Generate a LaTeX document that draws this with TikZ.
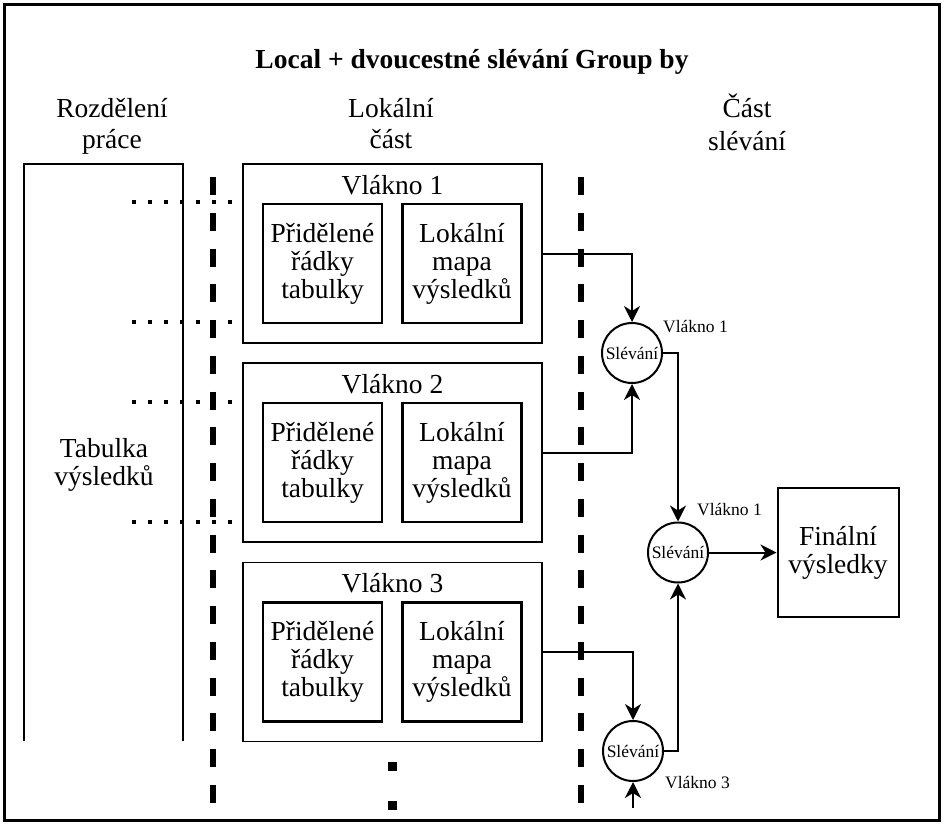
\documentclass[tikz,border=0pt]{standalone}
\usepackage{fontspec}
\setmainfont{Liberation Serif}
\usetikzlibrary{arrows.meta,positioning,calc}

\begin{document}
\begin{tikzpicture}[x=1pt, y=-1pt,
    font=\fontsize{27.5}{28}\selectfont,
    every node/.style={inner sep=0pt},
    header/.style={align=center, font=\fontsize{27.5}{30.5}\selectfont},
    threadbox/.style={draw, line width=1.8pt, minimum width=299pt, minimum height=179pt},
    partbox/.style={draw, line width=2.5pt, minimum width=119pt, minimum height=119pt, align=center},
    mergenode/.style={draw, circle, line width=2pt, minimum size=60pt, font=\fontsize{17.5}{18}\selectfont},
    threadlabel/.style={font=\fontsize{17.5}{18}\selectfont, anchor=base west},
    flow/.style={line width=2pt, -{Stealth[length=16pt, width=16pt, inset=5pt]}},
    sepline/.style={line width=6pt, dash pattern=on 18pt off 17.76pt},
    dotline/.style={line width=4pt, dash pattern=on 4pt off 12pt}]
    \useasboundingbox (0,0) rectangle (945,825);
    % Outer frame
    \draw[line width=2.5pt] (4.5,4.5) rectangle (939.5,820.5);
    % Title and column headers
    \node[font=\fontsize{27.5}{28}\selectfont\bfseries, anchor=base] (title) at (472,68) {Local + dvoucestné slévání Group by};
    \node[header] (splitHead) at (112,126.5) {Rozdělení\\práce};
    \node[header] (localHead) at (391,123.5) {Lokální\\část};
    \node[header, font=\fontsize{27.5}{33}\selectfont] (mergeHead) at (747,122) {Část\\slévání};

    % Result table (open box)
    \draw[line width=2pt] (24,741) -- (24,164) -- (183,164) -- (183,741);
    \node[align=center] (resTable) at (104,465) {Tabulka\\výsledků};

    % Dotted guides from the table to the threads
    \foreach \y in {202,322,402,522} {
      \draw[dotline] (132,\y) -- (232,\y);
    }

    % Thick dashed separators
    \draw[sepline] (212.5,177) -- (212.5,803);
    \draw[sepline] (580.5,177) -- (580.5,803);

    % Thread boxes with their two parts
    \foreach \i/\yc in {1/253.5, 2/452.5, 3/652} {
      \node[threadbox] (thread\i) at (392.5,\yc) {};
      \node[anchor=base] (threadName\i) at ($(thread\i.north)+(0,31)$) {Vlákno \i};
      \node[partbox] (rows\i) at ($(thread\i.center)+(-70,10)$) {Přidělené\\řádky\\tabulky};
      \node[partbox] (localMap\i) at ($(thread\i.center)+(69.5,10)$) {Lokální\\mapa\\výsledků};
    }
    % More threads
    \draw[line width=9pt, dash pattern=on 9pt off 30pt] (392,762) -- (392,810);

    % Merge nodes and final result
    \node[mergenode] (merge1) at (632,353) {Slévání};
    \node[mergenode] (merge2) at (678,552.5) {Slévání};
    \node[mergenode] (merge3) at (633,751) {Slévání};
    \node[draw, line width=2pt, minimum width=121pt, minimum height=129pt, align=center] (final) at (838,552.5) {Finální\\výsledky};

    \node[threadlabel] (mergeLabel1) at ($(merge1.center)+(31,-21)$) {Vlákno 1};
    \node[threadlabel] (mergeLabel2) at ($(merge2.center)+(19,-37.5)$) {Vlákno 1};
    \node[threadlabel] (mergeLabel3) at ($(merge3.center)+(32,37)$) {Vlákno 3};

    % Arrows into the merge tree
    \draw[flow] (thread1.east) -| (merge1);
    \draw[flow] (thread2.east) -| (merge1);
    \draw[flow] (merge1.east) -| (merge2);
    \draw[flow] (thread3.east) -| (merge3);
    \draw[flow] (merge3.east) -| (merge2);
    \draw[flow] (merge2) -- (final);
    \coordinate (moreIn) at (633,808);
    \draw[flow] (moreIn) -- (merge3);
\end{tikzpicture}
\end{document}
